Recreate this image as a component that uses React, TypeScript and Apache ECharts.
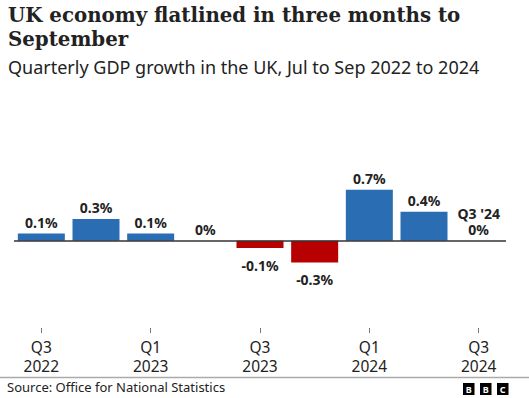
import React, { useEffect, useRef } from "react";
import * as echarts from "echarts";

const categories = ["Q3 2022", "Q4 2022", "Q1 2023", "Q2 2023", "Q3 2023", "Q4 2023", "Q1 2024", "Q2 2024", "Q3 2024"];
const growth = [0.1, 0.3, 0.1, 0, -0.1, -0.3, 0.7, 0.4, 0];
const lastLabel = "Q3 '24";

const titleLines = ["UK economy flatlined in three months to", "September"];
const subtitle = "Quarterly GDP growth in the UK, Jul to Sep 2022 to 2024";
const source = "Source: Office for National Statistics";

const BLUE = "#2a6db2";
const RED = "#b80000";
const SANS = "'Noto Sans', sans-serif";
const SERIF = "'DejaVu Serif', serif";

export default function App() {
  const ref = useRef<HTMLDivElement>(null);
  useEffect(() => {
    if (!ref.current) return;
    const chart = echarts.init(ref.current, undefined, { renderer: "svg" });
    const lastIdx = growth.length - 1;
    const data = growth.map((v, i) => ({
      value: v,
      itemStyle: { color: v < 0 ? RED : BLUE },
      label: {
        position: v < 0 ? "bottom" : "top",
        distance: v < 0 ? 10 : i === lastIdx ? 3 : 4,
        lineHeight: i === lastIdx ? 16 : 14.5,
        formatter: i === lastIdx ? `${lastLabel}\n${v}%` : `${v}%`,
      },
    }));
    chart.setOption({
      animation: false,
      backgroundColor: "#ffffff",
      grid: { left: 14, right: 23, top: 168, bottom: 70 },
      xAxis: {
        type: "category",
        data: categories,
        axisLine: { show: false, onZero: false },
        axisTick: { show: true, interval: 1, alignWithLabel: true, length: 5, lineStyle: { color: "#777", width: 1 } },
        axisLabel: {
          interval: 1,
          margin: 9,
          color: "#222",
          fontFamily: SANS,
          fontSize: 15.5,
          lineHeight: 19,
          formatter: (s: string) => s.replace(" ", "\n"),
        },
      },
      yAxis: {
        type: "value",
        min: -1.2,
        max: 1.0,
        show: false,
        splitLine: { show: false },
      },
      series: [
        {
          type: "bar",
          data,
          barWidth: 47,
          label: {
            show: true,
            color: "#222",
            fontFamily: SANS,
            fontWeight: "bold",
            fontSize: 14,
          },
          markLine: {
            silent: true,
            symbol: "none",
            label: { show: false },
            lineStyle: { color: "#333", width: 1.5, type: "solid" },
            data: [{ yAxis: 0 }],
            z: 10,
          },
        },
      ],
      graphic: [
        { type: "text", left: 8, top: 5, style: { text: titleLines[0], font: `bold 19.8px ${SERIF}`, fill: "#222" } },
        { type: "text", left: 8, top: 29, style: { text: titleLines[1], font: `bold 19.8px ${SERIF}`, fill: "#222" } },
        { type: "text", left: 8, top: 58, style: { text: subtitle, font: `18px ${SANS}`, fill: "#222" } },
        { type: "line", shape: { x1: 0, y1: 377.5, x2: 529, y2: 377.5 }, style: { stroke: "#aaa", lineWidth: 1.5 } },
        { type: "text", left: 7, top: 380, style: { text: source, font: `13px ${SANS}`, fill: "#222" } },
        { type: "rect", shape: { x: 463, y: 383, width: 11.5, height: 12 }, style: { fill: "#000" } },
        { type: "rect", shape: { x: 480, y: 383, width: 11.5, height: 12 }, style: { fill: "#000" } },
        { type: "rect", shape: { x: 497, y: 383, width: 11.5, height: 12 }, style: { fill: "#000" } },
        { type: "text", x: 468.75, y: 389.5, style: { text: "B", font: `bold 9px ${SANS}`, fill: "#fff", align: "center", verticalAlign: "middle" } },
        { type: "text", x: 485.75, y: 389.5, style: { text: "B", font: `bold 9px ${SANS}`, fill: "#fff", align: "center", verticalAlign: "middle" } },
        { type: "text", x: 502.75, y: 389.5, style: { text: "C", font: `bold 9px ${SANS}`, fill: "#fff", align: "center", verticalAlign: "middle" } },
      ],
    });
    return () => chart.dispose();
  }, []);
  return <div ref={ref} style={{ position: "absolute", left: 0, top: 0, width: 529, height: 398 }} />;
}
